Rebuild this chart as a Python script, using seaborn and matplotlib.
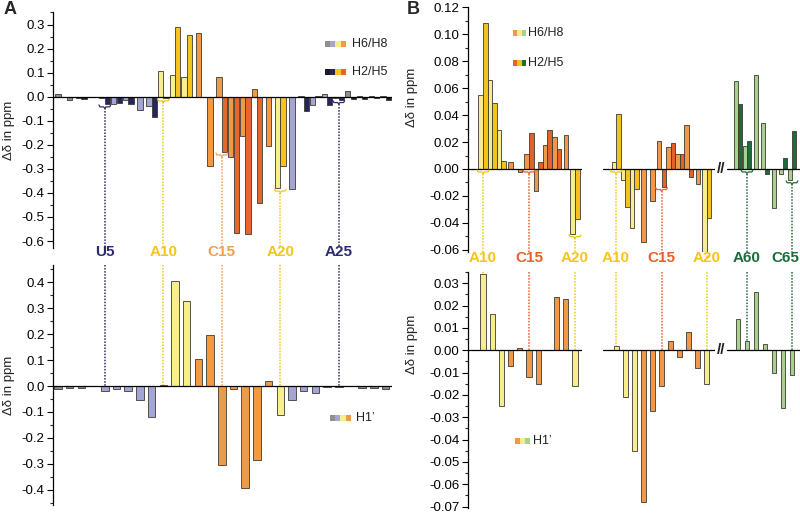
import matplotlib
matplotlib.use("Agg")
import matplotlib.pyplot as plt
from matplotlib.patches import Rectangle
from matplotlib.ticker import MultipleLocator, AutoMinorLocator, FuncFormatter
import numpy as np
import pandas as pd
import seaborn as sns

# ---------------- panel A (shift change in ppm per residue) ----------------
a_res = list(range(1, 30))
a_group = list("GGGGBBBBBYYYOOOOOOOYBBBBBGGGG")
a_h6h8 = [0.01, -0.015, -0.005, None, -0.004, -0.03, -0.015, -0.055, -0.04, 0.105,
          0.09, 0.08, 0.265, -0.29, 0.08, -0.25, -0.165, 0.03, -0.205, -0.38,
          -0.385, 0.003, -0.035, 0.01, -0.004, 0.025, 0.002, 0.002, 0.002]
a_h2h5 = [None, None, -0.01, None, -0.03, -0.025, -0.03, None, -0.085, -0.005,
          0.29, 0.255, None, None, -0.23, -0.565, -0.57, -0.44, None, -0.29,
          None, -0.06, 0.004, -0.035, -0.012, -0.01, -0.01, -0.006, -0.012]
a_h1 = [-0.01, -0.007, -0.008, None, -0.02, -0.012, -0.02, -0.055, -0.12, 0.003,
        0.405, 0.33, 0.105, 0.195, -0.305, -0.01, -0.395, -0.285, 0.02, -0.11,
        -0.053, -0.02, -0.027, -0.003, -0.003, 0.002, -0.008, -0.008, -0.012]
a_marks = [5, 10, 15, 20, 25]
a_mark_labels = ["U5", "A10", "C15", "A20", "A25"]

# ---------------- panel B ----------------
b_res = list(range(10, 21))
b_group = list("YYYOOOOOOOY")
b1_h6h8 = [0.055, 0.066, 0.029, 0.005, -0.002, 0.011, -0.016, 0.018, 0.024, 0.025, -0.048]
b1_h2h5 = [0.108, 0.049, 0.006, None, None, 0.027, 0.005, 0.029, 0.015, None, -0.037]
b1_h1 = [0.034, 0.016, -0.025, -0.007, 0.001, -0.012, -0.015, None, 0.024, 0.023, -0.016]
b2_h6h8 = [0.005, -0.008, -0.044, -0.054, -0.024, 0.021, 0.016, 0.011, 0.033, -0.011, -0.062]
b2_h2h5 = [0.041, -0.028, -0.015, None, None, -0.013, 0.019, 0.011, -0.006, None, -0.036]
b2_h1 = [0.002, -0.021, -0.045, -0.068, -0.027, -0.016, 0.004, -0.003, 0.008, -0.008, -0.015]
b3_res = list(range(59, 66))
b3_group = list("GGGGGGG")
b3_h6h8 = [0.065, 0.017, 0.070, 0.034, -0.029, -0.004, -0.008]
b3_h2h5 = [0.048, 0.021, None, -0.004, None, 0.008, 0.028]
b3_h1 = [0.014, 0.004, 0.026, 0.003, -0.010, -0.026, -0.011]
b_marks = [10, 15, 20]
b_mark_labels = ["A10", "C15", "A20"]
b3_marks = [60, 65]
b3_mark_labels = ["A60", "C65"]

# colours
pal_a = {"G6": "#8f8f8f", "G2": "#1c1c24", "B6": "#a3a5d5", "B2": "#25265e",
         "Y6": "#f7ef8c", "Y2": "#f4c51c", "O6": "#f19a45", "O2": "#e4672c"}
pal_b = {"Y6": "#f6ee8e", "Y2": "#f2c21f", "O6": "#f0974a", "O2": "#e2622a",
         "G6": "#a9d18e", "G2": "#1d6a3a"}
navy, gold, orng, red_o, green = "#2c2c6c", "#f5c518", "#f0a050", "#e8602a", "#1e6b3a"
a_mark_colors = [navy, gold, orng, gold, navy]
b_mark_colors = [gold, red_o, gold]
b3_mark_colors = [green, green]
EDGE = "#3d3a33"

W, H = 800, 515
sns.set_theme(style="ticks")
plt.rcParams["font.family"] = ["Liberation Sans", "DejaVu Sans"]
plt.rcParams["axes.unicode_minus"] = False
fig = plt.figure(figsize=(W / 100, H / 100), dpi=100)


def px_axes(x0, y0, x1, y1):
    return fig.add_axes([x0 / W, 1 - y1 / H, (x1 - x0) / W, (y1 - y0) / H])


def bar_frame(res, groups, h6, h2=None, off=0.0):
    rows = []
    for i, r in enumerate(res):
        a = h6[i]
        b = None if h2 is None else h2[i]
        s = off if (a is not None and b is not None) else 0.0
        if a is not None:
            rows.append((r - s, a, groups[i] + "6"))
        if b is not None:
            rows.append((r + s, b, groups[i] + "2"))
    return pd.DataFrame(rows, columns=["pos", "dppm", "key"])


def panel(box, df, palette, bar_w, xlim, ylim, step=None, fmt=None):
    ax = px_axes(*box)
    spacing = np.min(np.diff(np.unique(df["pos"])))
    sns.barplot(data=df, x="pos", y="dppm", hue="key", palette=palette,
                native_scale=True, dodge=False, width=bar_w / spacing,
                errorbar=None, saturation=1, legend=False,
                edgecolor=EDGE, linewidth=0.6, ax=ax)
    ax.set_xlim(*xlim)
    ax.set_ylim(*ylim)
    ax.axhline(0, color="black", lw=0.9, zorder=4)
    ax.set_xlabel("")
    ax.set_ylabel("")
    ax.set_xticks([])
    ax.patch.set_alpha(0)
    sns.despine(ax=ax, bottom=True, left=step is None)
    if step is None:
        ax.set_yticks([])
    else:
        ax.yaxis.set_major_locator(MultipleLocator(step))
        ax.yaxis.set_minor_locator(AutoMinorLocator(2))
        ax.yaxis.set_major_formatter(FuncFormatter(lambda v, p: fmt.format(round(v, 4) + 0.0)))
        ax.tick_params(axis="y", which="major", length=4, width=0.8, direction="out",
                       labelsize=9.5, pad=2, colors="black")
        ax.tick_params(axis="y", which="minor", length=2, width=0.8, direction="out")
        ax.spines["left"].set_linewidth(0.9)
        ax.spines["left"].set_color("black")
    return ax


def brace(ax, x, y, w, h, color):
    xs = [x - w / 2, x - 0.42 * w, x - 0.1 * w, x, x + 0.1 * w, x + 0.42 * w, x + w / 2]
    ys = [y, y - 0.55 * h, y - 0.55 * h, y - h, y - 0.55 * h, y - 0.55 * h, y]
    ax.plot(xs, ys, color=color, lw=0.9, zorder=5, solid_capstyle="round")


def top_marks(ax, df, marks, colors, bw, hpx):
    lo, hi = ax.get_ylim()
    h = 3.5 * (hi - lo) / hpx
    for r, c in zip(marks, colors):
        vals = df.loc[(df["pos"] - r).abs() < 0.5, "dppm"]
        y0 = min(0.0, vals.min()) if len(vals) else 0.0
        y0 -= 0.3 * h
        brace(ax, r, y0, bw, h, c)
        ax.plot([r, r], [y0 - h, lo], color=c, lw=1.1, ls=(0, (1, 1)),
                clip_on=False, zorder=1)


def bottom_marks(ax, df, marks, labels, colors, label_y, dx=None):
    lo, hi = ax.get_ylim()
    dx = dx or [0] * len(marks)
    for r, t, c, d in zip(marks, labels, colors, dx):
        vals = df.loc[(df["pos"] - r).abs() < 0.5, "dppm"]
        y1 = max(0.0, vals.max()) if len(vals) else 0.0
        ax.plot([r, r], [hi, y1], color=c, lw=1.1, ls=(0, (1, 1)),
                clip_on=False, zorder=1)
        ax.text(r + d, label_y, t, transform=ax.get_xaxis_transform(), color=c,
                fontsize=11, fontweight="bold", ha="center", va="center", clip_on=False)


def swatch(x, y, colors, label, cw, ch=6.5, gap=5):
    for i, c in enumerate(colors):
        fig.add_artist(Rectangle(((x + i * cw) / W, 1 - (y + ch / 2) / H), cw / W, ch / H,
                                 transform=fig.transFigure, facecolor=c, edgecolor="none"))
    fig.text((x + len(colors) * cw + gap) / W, 1 - y / H, label, fontsize=9,
             va="center", ha="left", color="#222222")


# ---------------- panel A ----------------
a_top_df = bar_frame(a_res, a_group, a_h6h8, a_h2h5, off=0.23)
a_bot_df = bar_frame(a_res, a_group, a_h1)
a_xlim = (0.57, 29.55)
ax_at = panel((53, 12, 392, 248), a_top_df, pal_a, 0.45, a_xlim, (-0.629, 0.352), 0.1, "{:.1f}")
ax_ab = panel((53, 265, 392, 505), a_bot_df, pal_a, 0.64, a_xlim, (-0.459, 0.467), 0.1, "{:.1f}")
top_marks(ax_at, a_top_df, a_marks, a_mark_colors, 1.0, 236)
bottom_marks(ax_ab, a_bot_df, a_marks, a_mark_labels, a_mark_colors, 1.054)
for ax in (ax_at, ax_ab):
    ax.set_ylabel("Δδ in ppm", fontsize=9.5, color="#222222")
    ax.yaxis.set_label_coords(-38 / 339, 0.5)

# ---------------- panel B ----------------
b1_top = bar_frame(b_res, b_group, b1_h6h8, b1_h2h5, off=0.25)
b2_top = bar_frame(b_res, b_group, b2_h6h8, b2_h2h5, off=0.25)
b3_top = bar_frame(b3_res, b3_group, b3_h6h8, b3_h2h5, off=0.25)
b1_bot = bar_frame(b_res, b_group, b1_h1)
b2_bot = bar_frame(b_res, b_group, b2_h1)
b3_bot = bar_frame(b3_res, b3_group, b3_h1)
bt_ylim = (-0.0616, 0.1202)
bb_ylim = (-0.0706, 0.035)
x1, x2, x3 = (8.37, 20.76), (8.57, 20.88), (57.78, 65.89)

bt1 = panel((468, 7, 582, 252), b1_top, pal_b, 0.49, x1, bt_ylim, 0.02, "{:.2f}")
bt2 = panel((603, 7, 715, 252), b2_top, pal_b, 0.49, x2, bt_ylim)
bt3 = panel((727, 7, 800, 252), b3_top, pal_b, 0.49, x3, bt_ylim)
bb1 = panel((468, 272, 582, 508), b1_bot, pal_b, 0.55, x1, bb_ylim, 0.01, "{:.2f}")
bb2 = panel((603, 272, 715, 508), b2_bot, pal_b, 0.55, x2, bb_ylim)
bb3 = panel((727, 272, 800, 508), b3_bot, pal_b, 0.55, x3, bb_ylim)

for ax_t, ax_b, dft, dfb, mk, lb, cl, dx in [
        (bt1, bb1, b1_top, b1_bot, b_marks, b_mark_labels, b_mark_colors, None),
        (bt2, bb2, b2_top, b2_bot, b_marks, b_mark_labels, b_mark_colors, None),
        (bt3, bb3, b3_top, b3_bot, b3_marks, b3_mark_labels, b3_mark_colors, [0, -0.75])]:
    top_marks(ax_t, dft, mk, cl, 1.3, 245)
    bottom_marks(ax_b, dfb, mk, lb, cl, 1.059, dx)

for ax in (bt3, bb3):
    ax.text(57.1, 0, "//", fontsize=11, fontweight="bold", ha="center", va="center",
            color="#222222", clip_on=False)

bt1.set_ylabel("Δδ in ppm", fontsize=9.5, color="#222222")
bt1.yaxis.set_label_coords(-50 / 114, (252 - 97) / 245)
bb1.set_ylabel("Δδ in ppm", fontsize=9.5, color="#222222")
bb1.yaxis.set_label_coords(-50 / 114, (508 - 344) / 236)

# legends
swatch(325, 44, [pal_a["G6"], pal_a["B6"], pal_a["Y6"], pal_a["O6"]], "H6/H8", 5.2, gap=6)
swatch(325, 72, [pal_a["G2"], pal_a["B2"], pal_a["Y2"], pal_a["O2"]], "H2/H5", 5.2, gap=6)
swatch(330, 418, [pal_a["G6"], pal_a["B6"], pal_a["Y6"], pal_a["O6"]], "H1\u2019", 5.2, gap=5)
swatch(513, 33, [pal_b["O6"], pal_b["Y6"], pal_b["G6"]], "H6/H8", 4.3, gap=2)
swatch(513, 63, [pal_b["O2"], pal_b["Y2"], pal_b["G2"]], "H2/H5", 4.3, gap=2)
swatch(515, 441, [pal_b["O6"], pal_b["Y6"], pal_b["G6"]], "H1\u2019", 5.0, gap=3)

fig.text(4 / W, 1 - 9 / H, "A", fontsize=13, fontweight="bold", va="center", ha="left")
fig.text(407 / W, 1 - 9 / H, "B", fontsize=13, fontweight="bold", va="center", ha="left")

fig.savefig("out.png", dpi=100)
